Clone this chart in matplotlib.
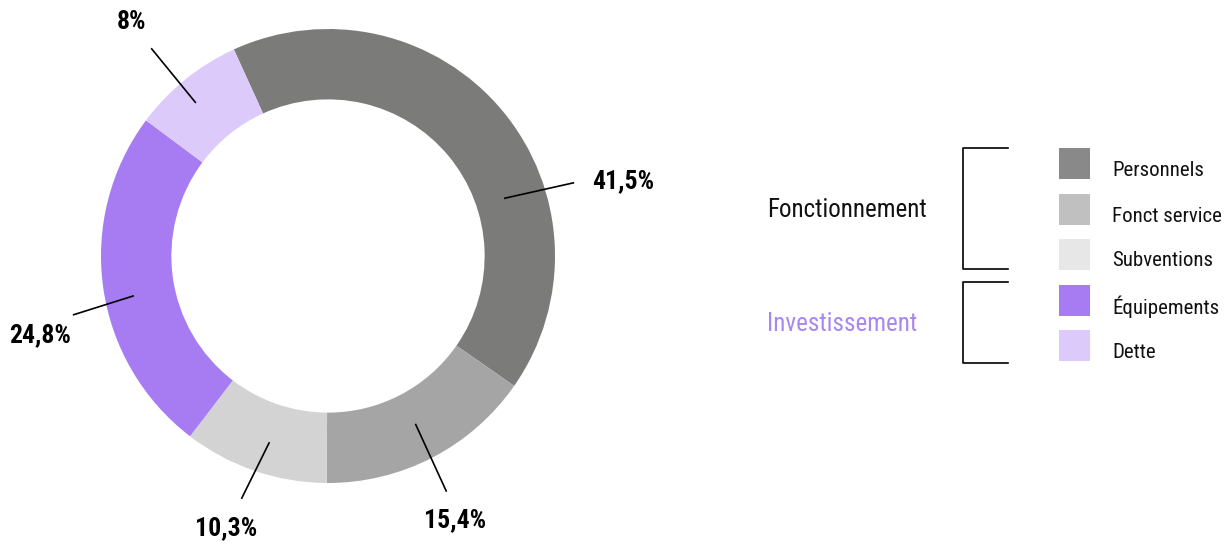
import numpy as np
import matplotlib
matplotlib.use("Agg")
import matplotlib.pyplot as plt
from matplotlib.patches import Rectangle
from matplotlib import font_manager as fm

# ---- data ----
categories = ["Personnels", "Fonct service", "Subventions", "Équipements", "Dette"]
values = [41.5, 15.4, 10.3, 24.8, 8.0]
value_labels = ["41,5%", "15,4%", "10,3%", "24,8%", "8%"]
groups = ["Fonctionnement", "Investissement"]
group_sizes = [3, 2]

# ---- style ----
slice_colors = ["#7b7b7a", "#a5a5a5", "#d3d3d3", "#a77cf2", "#dccbfa"]
legend_colors = ["#898989", "#c0c0c0", "#e7e7e7", "#a77cf2", "#dccbfa"]
group_colors = ["#111111", "#a987f0"]

names = {f.name for f in fm.fontManager.ttflist}
narrow = [n for n in ["Liberation Sans Narrow", "Roboto Condensed", "Open Sans Condensed"] if n in names]
fam = narrow + ["DejaVu Sans"]

W, H = 1227, 544
fig = plt.figure(figsize=(W / 100, H / 100), dpi=100)
ax = fig.add_axes([0, 0, 1, 1])

cx, cy, R = 328, 544 - 256, 227
wedges, _ = ax.pie(values, colors=slice_colors, startangle=114.5, counterclock=False,
                   radius=R, center=(cx, cy), wedgeprops=dict(width=R * 0.31, linewidth=0))

# label layout: (inner angle, inner r, outer angle, outer r, text x, text y) in pixels
layout = [
    (18.1, 186, 16.6, 256, 623, 181),
    (297.5, 190, 296.7, 263, 455, 520),
    (252.5, 196, 250.4, 257, 226, 528),
    (191.6, 199, 193.0, 261, 40, 335),
    (130.8, 203, 130.4, 272, 132, 22),
]
for lab, (a1, r1, a2, r2, tx, ty) in zip(value_labels, layout):
    p1 = (cx + r1 * np.cos(np.radians(a1)), cy + r1 * np.sin(np.radians(a1)))
    p2 = (cx + r2 * np.cos(np.radians(a2)), cy + r2 * np.sin(np.radians(a2)))
    ax.plot([p1[0], p2[0]], [p1[1], p2[1]], color="black", lw=1.2)
    ax.text(tx, H - ty, lab, ha="center", va="center", fontsize=18.5, fontweight="bold",
            family=fam, color="black")

# legend
sq_top = [148, 194, 239, 285, 330]
for cat, col, top in zip(categories, legend_colors, sq_top):
    ax.add_patch(Rectangle((1059, H - top - 31), 31, 31, facecolor=col, edgecolor="none"))
    ax.text(1112, H - top - 22, cat, ha="left", va="center", fontsize=15, family=fam, color="#111111")

# brackets & group labels
brackets = [(148, 269, 210), (282, 363, 324)]
for g, col, (y0, y1, ty) in zip(groups, group_colors, brackets):
    ax.plot([1008, 963, 963, 1008], [H - y0, H - y0, H - y1, H - y1], color="black", lw=1.2)
    ax.text(767, H - ty, g, ha="left", va="center", fontsize=18, family=fam, color=col)

ax.set_xlim(0, W)
ax.set_ylim(0, H)
ax.set_aspect("equal")
ax.axis("off")
fig.savefig("out.png", dpi=100)
